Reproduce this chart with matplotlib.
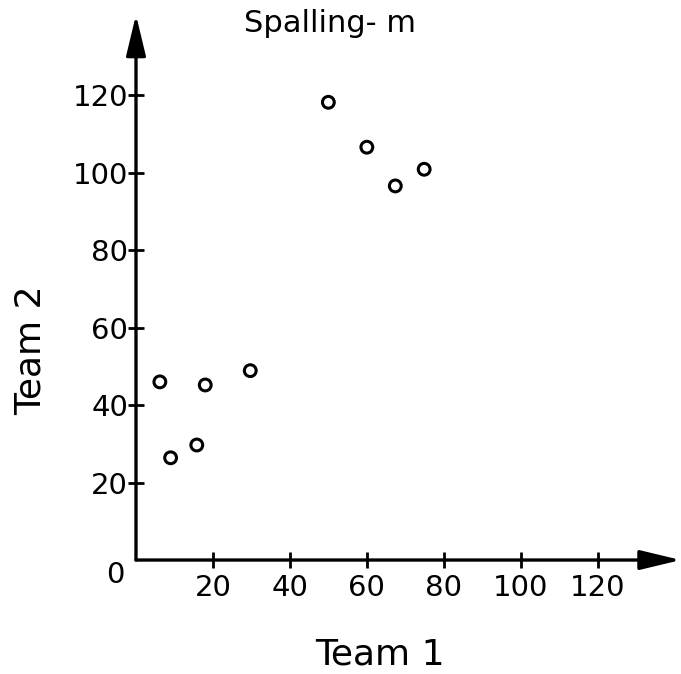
import matplotlib
matplotlib.use("Agg")
import matplotlib.pyplot as plt

# Spalling measurements (m) reported by two survey teams
team1 = [6.2, 9.0, 15.8, 18.0, 29.7, 50.0, 60.0, 67.4, 74.9]
team2 = [46.0, 26.4, 29.7, 45.2, 48.9, 118.2, 106.6, 96.6, 100.9]

tick_values = [20, 40, 60, 80, 100, 120]
tick_labels = ["20", "40", "60", "80", "100", "120"]

title = "Spalling- m"
xlabel = "Team 1"
ylabel = "Team 2"

plt.rcParams["font.family"] = ["DejaVu Sans"]

fig = plt.figure(figsize=(6.81, 6.74), dpi=100)
ax = fig.add_axes([0.1997, 0.1691, 0.80, 0.809])

xmax, ymax = 141.6, 140.8
ax.set_xlim(0, xmax)
ax.set_ylim(0, ymax)

ax.scatter(team1, team2, s=72, facecolors="none", edgecolors="black",
           linewidths=2.2, zorder=3, clip_on=False)

for side in ["top", "right", "left", "bottom"]:
    ax.spines[side].set_visible(False)

# axis lines with filled arrowheads
arrow = dict(arrowstyle="-|>,head_length=2.5,head_width=0.6", lw=2.4,
             color="black", shrinkA=0, shrinkB=0, mutation_scale=10)
ax.annotate("", xy=(xmax, 0), xytext=(0, 0), arrowprops=arrow,
            annotation_clip=False)
ax.annotate("", xy=(0, ymax), xytext=(0, 0), arrowprops=arrow,
            annotation_clip=False)

ax.set_xticks(tick_values)
ax.set_xticklabels(tick_labels)
ax.set_yticks(tick_values)
ax.set_yticklabels(tick_labels)
ax.tick_params(axis="both", direction="inout", length=11.5, width=2.0,
               labelsize=21, color="black")
ax.tick_params(axis="x", pad=4)
ax.tick_params(axis="y", pad=0)

# shared origin label
ax.annotate("0", xy=(0, 0), xytext=(-15, -11), textcoords="offset points",
            ha="center", va="center", fontsize=21, annotation_clip=False)

fig.text(0.485, 0.9525, title, ha="center", va="baseline", fontsize=22)
fig.text(0.558, 0.0134, xlabel, ha="center", va="baseline", fontsize=26)
fig.text(0.0455, 0.481, ylabel, ha="center", va="center", fontsize=26,
         rotation=90)

fig.savefig("out.png", dpi=100)
